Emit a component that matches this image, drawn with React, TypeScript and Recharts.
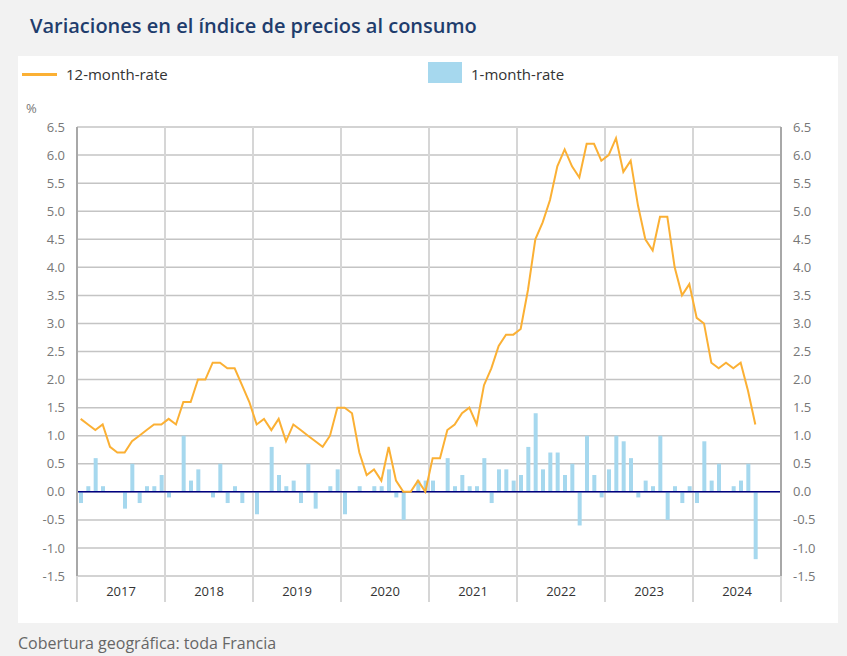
import React from "react";
import {
  ComposedChart,
  Bar,
  Line,
  XAxis,
  YAxis,
  CartesianGrid,
  ReferenceLine,
} from "recharts";

const YEARS = [2017, 2018, 2019, 2020, 2021, 2022, 2023, 2024];

// 12-month rate, Jan 2017 .. Sep 2024
const RATE_12 = [
  1.3, 1.2, 1.1, 1.2, 0.8, 0.7, 0.7, 0.9, 1.0, 1.1, 1.2, 1.2,
  1.3, 1.2, 1.6, 1.6, 2.0, 2.0, 2.3, 2.3, 2.2, 2.2, 1.9, 1.6,
  1.2, 1.3, 1.1, 1.3, 0.9, 1.2, 1.1, 1.0, 0.9, 0.8, 1.0, 1.5,
  1.5, 1.4, 0.7, 0.3, 0.4, 0.2, 0.8, 0.2, 0.0, 0.0, 0.2, 0.0,
  0.6, 0.6, 1.1, 1.2, 1.4, 1.5, 1.2, 1.9, 2.2, 2.6, 2.8, 2.8,
  2.9, 3.6, 4.5, 4.8, 5.2, 5.8, 6.1, 5.8, 5.6, 6.2, 6.2, 5.9,
  6.0, 6.3, 5.7, 5.9, 5.1, 4.5, 4.3, 4.9, 4.9, 4.0, 3.5, 3.7,
  3.1, 3.0, 2.3, 2.2, 2.3, 2.2, 2.3, 1.8, 1.2,
];

// 1-month rate, Jan 2017 .. Sep 2024
const RATE_1 = [
  -0.2, 0.1, 0.6, 0.1, 0.0, 0.0, -0.3, 0.5, -0.2, 0.1, 0.1, 0.3,
  -0.1, 0.0, 1.0, 0.2, 0.4, 0.0, -0.1, 0.5, -0.2, 0.1, -0.2, 0.0,
  -0.4, 0.0, 0.8, 0.3, 0.1, 0.2, -0.2, 0.5, -0.3, 0.0, 0.1, 0.4,
  -0.4, 0.0, 0.1, 0.0, 0.1, 0.1, 0.4, -0.1, -0.5, 0.0, 0.2, 0.2,
  0.2, 0.0, 0.6, 0.1, 0.3, 0.1, 0.1, 0.6, -0.2, 0.4, 0.4, 0.2,
  0.3, 0.8, 1.4, 0.4, 0.7, 0.7, 0.3, 0.5, -0.6, 1.0, 0.3, -0.1,
  0.4, 1.0, 0.9, 0.6, -0.1, 0.2, 0.1, 1.0, -0.5, 0.1, -0.2, 0.1,
  -0.2, 0.9, 0.2, 0.5, 0.0, 0.1, 0.2, 0.5, -1.2,
];

const Y_TICKS = [-1.5, -1.0, -0.5, 0, 0.5, 1.0, 1.5, 2.0, 2.5, 3.0, 3.5, 4.0, 4.5, 5.0, 5.5, 6.0, 6.5];

const MONTHS = YEARS.length * 12;
const data = Array.from({ length: MONTHS }, (_, i) => ({
  x: i + 0.5,
  m12: i < RATE_12.length ? RATE_12[i] : null,
  m1: i < RATE_1.length ? RATE_1[i] : null,
}));
const YEAR_TICKS = YEARS.map((_, i) => i * 12).concat([MONTHS]);

const W = 847;
const CHART_H = 610;
const MARGIN = { top: 127, right: 16, bottom: 4, left: 27 };
const AXIS_W = 50;
const PLOT_W = W - MARGIN.left - MARGIN.right - 2 * AXIS_W;
const HALF_YEAR = PLOT_W / YEARS.length / 2;

const ORANGE = "#fbb034";
const BLUE = "#a6d8ee";
const FONT = '"Open Sans", sans-serif';

const YearTick = (props: any) => {
  const { x, y, payload } = props;
  const idx = payload.value / 12;
  if (idx >= YEARS.length) return <g />;
  return (
    <text x={x + HALF_YEAR} y={y - 8} textAnchor="middle" fontSize={13} fill="#333" fontFamily={FONT}>
      {YEARS[idx]}
    </text>
  );
};

const fmt = (v: number) => v.toFixed(1);

export default function App() {
  return (
    <div
      style={{
        position: "fixed",
        left: 0,
        top: 0,
        width: W,
        height: 656,
        background: "#f2f2f2",
        fontFamily: FONT,
        overflow: "hidden",
      }}
    >
      <div style={{ position: "absolute", left: 30, top: 12, fontSize: 20, fontWeight: 600, color: "#1f3d6d", lineHeight: "28px" }}>
        Variaciones en el índice de precios al consumo
      </div>
      <div style={{ position: "absolute", left: 18, top: 56, width: 820, height: 567, background: "#fff" }} />

      {/* legend */}
      <div style={{ position: "absolute", left: 22, top: 73, width: 35, height: 2.5, background: ORANGE }} />
      <div style={{ position: "absolute", left: 66, top: 64, fontSize: 15, lineHeight: "20px", color: "#333" }}>12-month-rate</div>
      <div style={{ position: "absolute", left: 428, top: 62, width: 34, height: 21, background: BLUE }} />
      <div style={{ position: "absolute", left: 471, top: 64, fontSize: 15, lineHeight: "20px", color: "#333" }}>1-month-rate</div>
      <div style={{ position: "absolute", left: 26, top: 100, fontSize: 13, lineHeight: "16px", color: "#777" }}>%</div>

      <div style={{ position: "absolute", left: 0, top: 0 }}>
        <ComposedChart width={W} height={CHART_H} data={data} margin={MARGIN}>
          <CartesianGrid yAxisId="left" horizontal vertical={false} stroke="#c4c4c4" strokeWidth={1.5} />
          <CartesianGrid xAxisId="main" yAxisId="left" horizontal={false} vertical stroke="#d6d6d6" strokeWidth={2} />
          <XAxis
            xAxisId="main"
            dataKey="x"
            type="number"
            domain={[0, MONTHS]}
            ticks={YEAR_TICKS}
            interval={0}
            axisLine={false}
            tickSize={26}
            tickLine={{ stroke: "#d6d6d6", strokeWidth: 2 }}
            tick={YearTick}
            height={30}
          />
          <YAxis
            yAxisId="left"
            width={AXIS_W}
            domain={[-1.5, 6.5]}
            ticks={Y_TICKS}
            interval={0}
            tickFormatter={fmt}
            axisLine={{ stroke: "#a8a8a8", strokeWidth: 2 }}
            tickLine={false}
            tickMargin={6}
            tick={{ fontSize: 13, fill: "#777", fontFamily: FONT }}
          />
          <YAxis
            yAxisId="right"
            orientation="right"
            width={AXIS_W}
            domain={[-1.5, 6.5]}
            ticks={Y_TICKS}
            interval={0}
            tickFormatter={fmt}
            axisLine={{ stroke: "#a8a8a8", strokeWidth: 2 }}
            tickLine={false}
            tickMargin={6}
            tick={{ fontSize: 13, fill: "#777", fontFamily: FONT }}
          />
          <Bar xAxisId="main" yAxisId="left" dataKey="m1" fill={BLUE} barSize={4} isAnimationActive={false} />
          <ReferenceLine xAxisId="main" yAxisId="left" y={0} stroke="#000080" strokeWidth={1.5} />
          <Line
            xAxisId="main"
            yAxisId="left"
            dataKey="m12"
            type="linear"
            stroke={ORANGE}
            strokeWidth={2}
            dot={false}
            activeDot={false}
            isAnimationActive={false}
          />
          <Line
            xAxisId="main"
            yAxisId="right"
            dataKey="m12"
            stroke="none"
            dot={false}
            activeDot={false}
            legendType="none"
            isAnimationActive={false}
          />
        </ComposedChart>
      </div>

      <div style={{ position: "absolute", left: 18, top: 632, fontSize: 16, lineHeight: "22px", color: "#666" }}>
        Cobertura geográfica: toda Francia
      </div>
    </div>
  );
}
